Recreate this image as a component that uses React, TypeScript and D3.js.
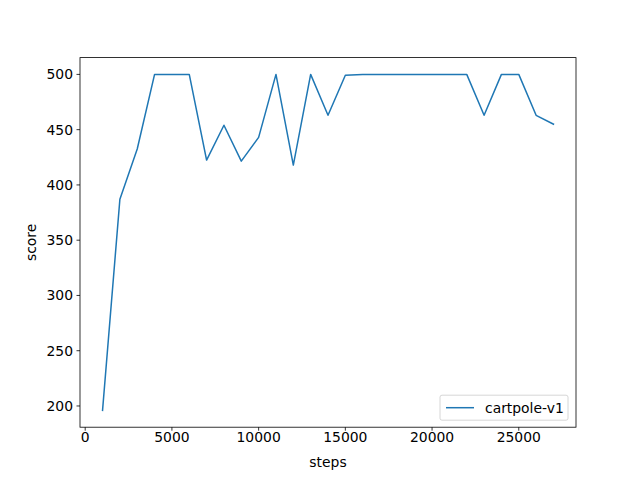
import * as d3 from "d3";

const steps = [1000, 2000, 3000, 4000, 5000, 6000, 7000, 8000, 9000, 10000, 11000, 12000, 13000, 14000,
  15000, 16000, 17000, 18000, 19000, 20000, 21000, 22000, 23000, 24000, 25000, 26000, 27000];
const scores = [196, 387, 432.5, 500, 500, 500, 422.5, 454, 421.5, 443, 500, 418, 500, 463,
  499.3, 500, 500, 500, 500, 500, 500, 500, 463, 500, 500, 463, 455];
const xTicks = [0, 5000, 10000, 15000, 20000, 25000];
const yTicks = [200, 250, 300, 350, 400, 450, 500];
const seriesName = "cartpole-v1";

const W = 640;
const H = 480;
const margin = { top: 57.6, right: 64, bottom: 52.8, left: 80 };
const font = "DejaVu Sans, sans-serif";

export default function App() {
  const x0 = margin.left;
  const x1 = W - margin.right;
  const y0 = H - margin.bottom;
  const y1 = margin.top;

  const [xmin, xmax] = d3.extent(steps) as [number, number];
  const [ymin, ymax] = d3.extent(scores) as [number, number];
  const xPad = (xmax - xmin) * 0.05;
  const yPad = (ymax - ymin) * 0.05;

  const xScale = d3.scaleLinear().domain([xmin - xPad, xmax + xPad]).range([x0, x1]);
  const yScale = d3.scaleLinear().domain([ymin - yPad, ymax + yPad]).range([y0, y1]);

  const line = d3.line<number>()
    .x((_, i) => xScale(steps[i]))
    .y((d) => yScale(d));

  return (
    <svg width={W} height={H} style={{ display: "block", position: "absolute", left: 0, top: 0 }}>
      <rect width={W} height={H} fill="white" />
      <path d={line(scores) ?? ""} fill="none" stroke="#1f77b4" strokeWidth={1.5} strokeLinejoin="round" strokeLinecap="square" />
      <rect x={x0} y={y1} width={x1 - x0} height={y0 - y1} fill="none" stroke="black" strokeWidth={0.8} />
      {xTicks.map((t) => (
        <g key={t} transform={`translate(${xScale(t)},${y0})`}>
          <line y2={3.5} stroke="black" strokeWidth={0.8} />
          <text y={17} textAnchor="middle" fontFamily={font} fontSize={13.9} dominantBaseline="hanging" dy={-13}>{t}</text>
        </g>
      ))}
      {yTicks.map((t) => (
        <g key={t} transform={`translate(${x0},${yScale(t)})`}>
          <line x2={-3.5} stroke="black" strokeWidth={0.8} />
          <text x={-7} textAnchor="end" dy="0.35em" fontFamily={font} fontSize={13.9}>{t}</text>
        </g>
      ))}
      <text x={(x0 + x1) / 2} y={467} textAnchor="middle" fontFamily={font} fontSize={13.9}>steps</text>
      <text transform={`translate(36,${(y0 + y1) / 2}) rotate(-90)`} textAnchor="middle" fontFamily={font} fontSize={13.9}>score</text>
      <g transform={`translate(${x1 - 136},${y0 - 32})`}>
        <rect width={128} height={25} rx={2} fill="white" fillOpacity={0.8} stroke="#cccccc" strokeWidth={0.8} />
        <line x1={6} x2={34} y1={12.5} y2={12.5} stroke="#1f77b4" strokeWidth={1.5} />
        <text x={45} y={12.5} dy="0.35em" fontFamily={font} fontSize={13.9}>{seriesName}</text>
      </g>
    </svg>
  );
}
